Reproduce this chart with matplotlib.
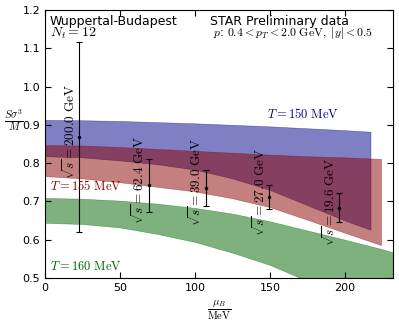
"""Skewness ratio S*sigma^3/M vs mu_B: lattice bands and STAR points."""

import matplotlib
matplotlib.use("Agg")
import matplotlib.pyplot as plt
import numpy as np

plt.rcParams['mathtext.fontset'] = 'cm'
plt.rcParams['font.family'] = 'DejaVu Sans'

# lattice bands
mu_150 = [0, 25, 50, 75, 100, 125, 150, 175, 200, 217]
top_150 = [0.913, 0.912, 0.910, 0.907, 0.904, 0.900, 0.896, 0.891, 0.886, 0.882]
bot_150 = [0.818, 0.815, 0.807, 0.797, 0.783, 0.760, 0.730, 0.690, 0.650, 0.626]

mu_155 = [0, 25, 50, 75, 100, 125, 150, 175, 200, 224]
top_155 = [0.847, 0.846, 0.842, 0.837, 0.832, 0.827, 0.822, 0.818, 0.815, 0.811]
bot_155 = [0.766, 0.760, 0.750, 0.738, 0.726, 0.708, 0.685, 0.652, 0.618, 0.586]

mu_160 = [0, 25, 50, 75, 100, 125, 150, 175, 200, 225, 240]
top_160 = [0.709, 0.707, 0.702, 0.694, 0.683, 0.668, 0.648, 0.624, 0.600, 0.575, 0.558]
bot_160 = [0.644, 0.641, 0.632, 0.615, 0.594, 0.566, 0.534, 0.492, 0.450, 0.400, 0.370]

# STAR preliminary points
sqrt_s = ['200.0', '62.4', '39.0', '27.0', '19.6']
mu_star = [22.7, 69.0, 107.0, 149.3, 196.0]
val_star = [0.868, 0.742, 0.735, 0.711, 0.683]
err_star = [0.247, 0.070, 0.046, 0.031, 0.038]

fig = plt.figure(figsize=(3.99, 3.21), dpi=100)
ax = fig.add_axes([0.113, 0.134, 0.872, 0.835])

ax.fill_between(mu_160, bot_160, top_160, color='darkgreen', alpha=0.5,
                edgecolor='darkgreen', linewidth=0.4)
ax.fill_between(mu_150, bot_150, top_150, color='darkblue', alpha=0.5,
                edgecolor='darkblue', linewidth=0.4)
ax.fill_between(mu_155, bot_155, top_155, color='darkred', alpha=0.5,
                edgecolor='darkred', linewidth=0.4)

ax.errorbar(mu_star, val_star, yerr=err_star, fmt='.', color='black',
            markersize=3, elinewidth=0.8, capsize=2.5, capthick=0.8)

for s, m, v in zip(sqrt_s, mu_star, val_star):
    ax.text(m - 1.0, v + 0.015, r'$\sqrt{s}=' + s + r'\ \mathrm{GeV}$',
            rotation=90, ha='right', va='center', fontsize=9.5)

ax.text(172, 0.928, r'$T=150\ \mathrm{MeV}$', color='darkblue', fontsize=9,
        ha='center', va='center')
ax.text(3, 0.740, r'$T=155\ \mathrm{MeV}$', color='darkred', fontsize=9,
        ha='left', va='center')
ax.text(3, 0.529, r'$T=160\ \mathrm{MeV}$', color='darkgreen', fontsize=9,
        ha='left', va='center')

ax.text(3, 1.171, 'Wuppertal-Budapest', fontsize=9, ha='left', va='center')
ax.text(3, 1.139, r'$N_t=12$', fontsize=10, ha='left', va='center')
ax.text(110, 1.171, 'STAR Preliminary data', fontsize=9,
        ha='left', va='center')
ax.text(112, 1.139, r'$p$: $0.4<p_T<2.0\ \mathrm{GeV},\ |y|<0.5$',
        fontsize=8.5, ha='left', va='center')

ax.set_xlim(0, 232)
ax.set_ylim(0.5, 1.2)
ax.set_xticks([0, 50, 100, 150, 200])
ax.set_yticks(np.arange(0.5, 1.21, 0.1))
ax.tick_params(direction='in', top=True, right=True, labelsize=8, length=4)

ax.set_xlabel(r'$\frac{\mu_B}{\mathrm{MeV}}$', fontsize=11)
ax.set_ylabel(r'$\frac{S\sigma^3}{M}$', fontsize=11, rotation=0)
ax.yaxis.set_label_coords(-0.09, 0.54)

fig.savefig('out.png', dpi=100)
